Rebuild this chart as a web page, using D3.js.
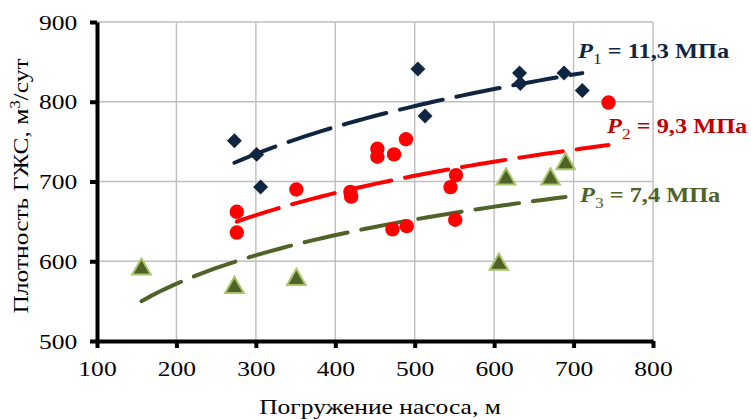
<!DOCTYPE html>
<head>
  <meta charset="utf-8">
  <style>
    body { margin: 0; background: #fff; }
    text { font-family: "Liberation Serif", "Times New Roman", serif; }
  </style>
  <title>Плотность ГЖС от погружения насоса</title>
</head>
<body>
  <script src="https://cdn.jsdelivr.net/npm/d3@7"></script>
  <script>
    // data: [погружение, м ; плотность, м3/сут]
    var p1Depth = [273, 301, 306, 504, 513, 632, 633, 688, 711];
    var p1Rate  = [751, 734, 693, 841, 782, 836, 823, 836, 814];

    var p2Depth = [276, 276, 351, 419, 420, 453, 453, 474, 489, 472, 490, 545, 552, 551, 744];
    var p2Rate  = [662, 636, 690, 687, 681, 741, 731, 734, 753, 640, 644, 693, 708, 652, 799];

    var p3Depth = [156, 273, 351, 606, 615, 671, 690];
    var p3Rate  = [590, 567, 577, 596, 703, 703, 722];

    // log trend lines y = a*ln(x) + b, as drawn in the picture
    var trendA = [117.4, 96.8, 87.9];
    var trendB = [65.0, 105.6, 106.1];

    var seriesNames = ["P1", "P2", "P3"];
    var seriesLabels = ["11,3 МПа", "9,3 МПа", "7,4 МПа"];

    var xTicks = [100, 200, 300, 400, 500, 600, 700, 800];
    var yTicks = [500, 600, 700, 800, 900];

    var margin = {top: 22, right: 98, bottom: 79, left: 97};
    var W = 751, H = 420;
    var width = W - margin.left - margin.right;
    var height = H - margin.top - margin.bottom;
    var stretch = 1.16;   // the original text is drawn a bit wide

    var x = d3.scaleLinear().domain([100, 800]).range([0, width]);
    var y = d3.scaleLinear().domain([500, 900]).range([height, 0]);

    var svg = d3.select("body").append("svg")
      .attr("width", W)
      .attr("height", H);
    var g = svg.append("g")
      .attr("transform", "translate(" + margin.left + "," + margin.top + ")");

    // grid
    g.append("g").selectAll("line.v")
      .data(xTicks.slice(1))
      .enter().append("line")
      .attr("x1", function(d) { return x(d); })
      .attr("x2", function(d) { return x(d); })
      .attr("y1", 0).attr("y2", height)
      .attr("stroke", "#bfbfbf").attr("stroke-width", 1.4);
    g.append("g").selectAll("line.h")
      .data(yTicks.slice(1))
      .enter().append("line")
      .attr("x1", 0).attr("x2", width)
      .attr("y1", function(d) { return y(d); })
      .attr("y2", function(d) { return y(d); })
      .attr("stroke", "#bfbfbf").attr("stroke-width", 1.4);

    // axes
    var xAxis = g.append("g")
      .attr("transform", "translate(0," + height + ")")
      .call(d3.axisBottom(x).tickValues(xTicks).tickSize(7).tickSizeOuter(0).tickPadding(12));
    var yAxis = g.append("g")
      .call(d3.axisLeft(y).tickValues(yTicks).tickSize(7).tickSizeOuter(0).tickPadding(10));
    [xAxis, yAxis].forEach(function(a) {
      a.attr("font-family", "Liberation Serif").attr("font-size", 22);
      a.select(".domain").attr("stroke", "#000").attr("stroke-width", 4);
      a.selectAll(".tick line").attr("stroke", "#000").attr("stroke-width", 4);
      a.selectAll(".tick text")
        .attr("fill", "#000")
        .attr("transform", "scale(" + stretch + ",1)");
    });

    var colors = ["#10253f", "#ff0000", "#4f6228"];
    var labelColors = ["#10253f", "#c00000", "#4f6228"];
    var depths = [p1Depth, p2Depth, p3Depth];
    var rates = [p1Rate, p2Rate, p3Rate];

    // trend lines
    var line = d3.line()
      .x(function(d) { return x(d[0]); })
      .y(function(d) { return y(d[1]); });
    depths.forEach(function(ds, i) {
      var ext = d3.extent(ds);
      var pts = d3.range(0, 41).map(function(k) {
        var xv = ext[0] + (ext[1] - ext[0]) * k / 40;
        return [xv, trendA[i] * Math.log(xv) + trendB[i]];
      });
      g.append("path")
        .datum(pts)
        .attr("d", line)
        .attr("fill", "none")
        .attr("stroke", colors[i])
        .attr("stroke-width", 4)
        .attr("stroke-linecap", "round")
        .attr("stroke-dasharray", "44,14");
    });

    // markers
    var zipped = function(i) {
      return depths[i].map(function(d, k) { return [d, rates[i][k]]; });
    };
    g.append("g").selectAll("path")
      .data(zipped(0))
      .enter().append("path")
      .attr("d", d3.symbol().type(d3.symbolSquare).size(112))
      .attr("transform", function(d) { return "translate(" + x(d[0]) + "," + y(d[1]) + ") rotate(45)"; })
      .attr("fill", colors[0]);
    g.append("g").selectAll("circle")
      .data(zipped(1))
      .enter().append("circle")
      .attr("cx", function(d) { return x(d[0]); })
      .attr("cy", function(d) { return y(d[1]); })
      .attr("r", 7.2)
      .attr("fill", colors[1]);
    g.append("g").selectAll("path")
      .data(zipped(2))
      .enter().append("path")
      .attr("d", d3.symbol().type(d3.symbolTriangle).size(150))
      .attr("transform", function(d) { return "translate(" + x(d[0]) + "," + y(d[1]) + ")"; })
      .attr("fill", colors[2])
      .attr("stroke", "#a9c46c")
      .attr("stroke-width", 2);

    // labels P = ...
    var labelPos = [[578, 58], [607, 133], [580, 202]];
    seriesNames.forEach(function(n, i) {
      var t = svg.append("text")
        .attr("transform", "translate(" + labelPos[i][0] + "," + labelPos[i][1] + ") scale(" + stretch + ",1)")
        .attr("fill", labelColors[i])
        .style("font-size", "21px")
        .style("font-weight", "bold");
      t.append("tspan").style("font-style", "italic").text("P");
      t.append("tspan").attr("dy", 6).style("font-size", "15px").style("font-weight", "normal").text(String(i + 1));
      t.append("tspan").attr("dy", -6).text(" = " + seriesLabels[i]);
    });

    // axis titles
    svg.append("text")
      .attr("transform", "translate(380,414) scale(" + stretch + ",1)")
      .attr("text-anchor", "middle")
      .style("font-size", "22px")
      .text("Погружение насоса, м");

    var yt = svg.append("text")
      .attr("transform", "translate(28,186) rotate(-90) scale(" + stretch + ",1)")
      .attr("text-anchor", "middle")
      .style("font-size", "22px");
    yt.append("tspan").text("Плотность ГЖС, м");
    yt.append("tspan").attr("dy", -8).style("font-size", "14px").text("3");
    yt.append("tspan").attr("dy", 8).text("/сут");
  </script>
</body>
